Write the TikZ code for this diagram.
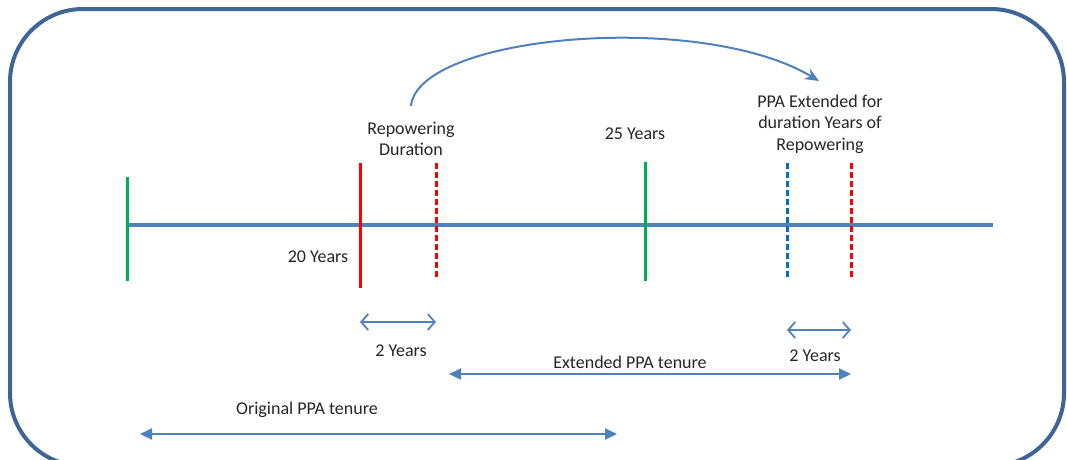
\documentclass[tikz,border=0pt]{standalone}
\usepackage{fontspec}
\setmainfont{Carlito}
\usetikzlibrary{arrows.meta,positioning}
\definecolor{framecol}{RGB}{62,101,151}
\definecolor{axiscol}{RGB}{79,129,189}
\definecolor{tickgreen}{RGB}{0,176,80}
\definecolor{tickred}{RGB}{255,0,0}
\definecolor{tickblue}{RGB}{0,112,192}

\tikzset{
  lbl/.style={font=\fontsize{18}{21.5}\selectfont, text=black!85, inner sep=0pt, align=center},
  tickline/.style={line width=3pt},
  dashtick/.style={line width=3pt, dash pattern=on 6pt off 3pt},
  span/.style={axiscol, line width=2pt, {Triangle[length=12pt,width=11pt]}-{Triangle[length=12pt,width=11pt]}},
  gapspan/.style={axiscol, line width=1.8pt, {Straight Barb[length=7pt,width=16pt]}-{Straight Barb[length=7pt,width=16pt]}},
}

\begin{document}
\begin{tikzpicture}[x=1pt,y=-1pt]
	\useasboundingbox (0,0) rectangle (1067,459);
	% frame
	\draw[framecol,line width=4pt,rounded corners=73pt] (10,9) rectangle (1064,466);

	% time axis
	\coordinate (axL) at (127,225);
	\coordinate (axR) at (993,225);
	\draw[axiscol,line width=4pt] (axL) -- (axR);

	% ticks
	\coordinate (g1t) at (127,177); \coordinate (g1b) at (127,281);
	\coordinate (r1t) at (360,163); \coordinate (r1b) at (360,288);
	\coordinate (r2t) at (436,163); \coordinate (r2b) at (436,278);
	\coordinate (g2t) at (645,162); \coordinate (g2b) at (645,281);
	\coordinate (b3t) at (787,163); \coordinate (b3b) at (787,278);
	\coordinate (r3t) at (851,163); \coordinate (r3b) at (851,278);
	\draw[tickline,tickgreen] (g1t) -- (g1b);
	\draw[tickline,tickred] (r1t) -- (r1b);
	\draw[dashtick,tickred] (r2t) -- (r2b);
	\draw[tickline,tickgreen] (g2t) -- (g2b);
	\draw[dashtick,tickblue] (b3t) -- (b3b);
	\draw[dashtick,tickred] (r3t) -- (r3b);

	% labels
	\node[lbl] (repow) at (411,139) {Repowering\\Duration};
	\node[lbl] (yr25) at (635,134) {25 Years};
	\node[lbl] (yr20) at (318,257) {20 Years};
	\node[lbl] (ext) at (820,124) {PPA Extended for\\duration Years of\\Repowering};

	% curved arrow
	\coordinate (arcS) at (411,106);
	\coordinate (arcE) at (819,81);
	\draw[axiscol,line width=2pt,-{Stealth[length=14pt,width=12pt]}] (arcS) .. controls (418,35) and (700,10) .. (arcE);

	% 2 year gaps
	\coordinate (gap1L) at (360,322); \coordinate (gap1R) at (436,322);
	\coordinate (gap2L) at (787,330); \coordinate (gap2R) at (851,330);
	\draw[gapspan] (gap1L) -- (gap1R);
	\draw[gapspan] (gap2L) -- (gap2R);
	\node[lbl] (two1) at (401,351) {2 Years};
	\node[lbl] (two2) at (815,356) {2 Years};

	% tenures
	\coordinate (extL) at (449,374); \coordinate (extR) at (851,374);
	\draw[span] (extL) -- (extR);
	\node[lbl] (extlbl) at (630,362) {Extended PPA tenure};
	\coordinate (orgL) at (140,434); \coordinate (orgR) at (617,434);
	\draw[span] (orgL) -- (orgR);
	\node[lbl] (orglbl) at (307,410) {Original PPA tenure};
\end{tikzpicture}
\end{document}
